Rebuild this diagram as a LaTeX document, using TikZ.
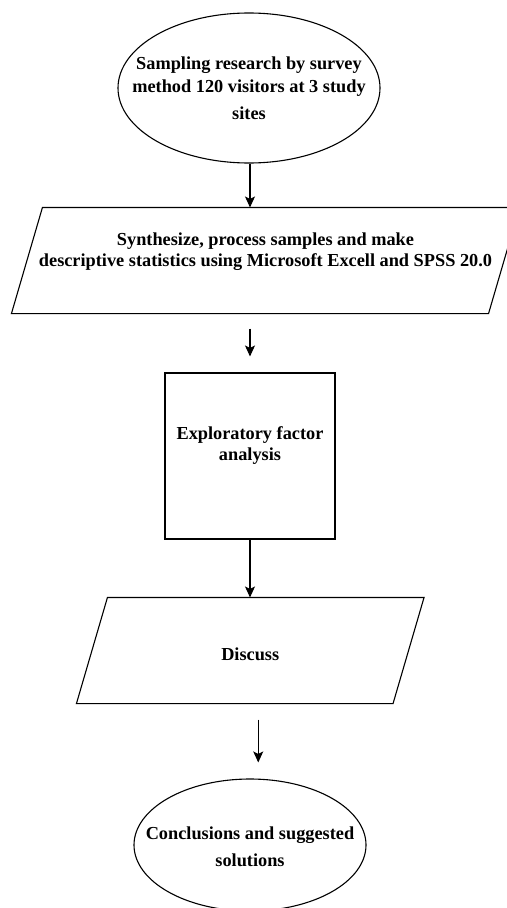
\documentclass[tikz,border=0pt]{standalone}
\usepackage{fontspec}
\setmainfont{Liberation Serif}
\usetikzlibrary{shapes.geometric,arrows.meta}
\begin{document}
\begin{tikzpicture}[x=1bp,y=-1bp,
  line width=1.1bp,
  txt/.style={font=\bfseries\fontsize{18.3bp}{#1}\selectfont, align=center, inner sep=0pt, text=black},
  oval/.style={draw, ellipse, inner sep=0pt},
  box/.style={draw, rectangle, inner sep=0pt},
  hold/.style={rectangle, inner sep=0pt},
  arr/.style={-{Stealth[length=11bp,width=10bp,inset=2.5bp]}}
]
\useasboundingbox (0,0) rectangle (507,908);

\node[oval, minimum width=262bp, minimum height=150bp,
  label={[txt=23bp]center:{Sampling research by survey\\method 120 visitors at 3 study\\[4bp]sites}}] (e1) at (249,88) {};

\node[hold, minimum width=476bp, minimum height=105bp,
  label={[txt=20.5bp, yshift=9bp]center:{Synthesize, process samples and make\\descriptive statistics using Microsoft Excell and SPSS 20.0}}] (p1) at (265.5,260.5) {};
\draw ([xshift=15.5bp]p1.north west) -- ([xshift=15.5bp]p1.north east)
  -- ([xshift=-15.5bp]p1.south east) -- ([xshift=-15.5bp]p1.south west) -- cycle;

\node[box, minimum width=170bp, minimum height=166bp,
  label={[txt=21bp, yshift=10.5bp]center:{Exploratory factor\\analysis}}] (efa) at (250,456) {};

\node[hold, minimum width=315.5bp, minimum height=105bp,
  label={[txt=21bp, yshift=-3.5bp]center:{Discuss}}] (p2) at (250.25,650.5) {};
\draw ([xshift=15.5bp]p2.north west) -- ([xshift=15.5bp]p2.north east)
  -- ([xshift=-15.5bp]p2.south east) -- ([xshift=-15.5bp]p2.south west) -- cycle;

\node[oval, minimum width=232bp, minimum height=132bp,
  label={[txt=27bp, yshift=-1.5bp]center:{Conclusions and suggested\\solutions}}] (e2) at (250,845) {};

\draw[arr] ([xshift=1bp]e1.south) -- ([xshift=1bp]e1.south |- p1.north);
\draw[arr, shorten <=15bp, shorten >=16bp] (efa.north |- p1.south) -- (efa.north);
\draw[arr] (efa.south) -- (efa.south |- p2.north);
\draw[arr, shorten <=16bp, shorten >=16bp] ([xshift=8bp]p2.south) -- ([xshift=8bp]p2.south |- e2.north);
\end{tikzpicture}
\end{document}
